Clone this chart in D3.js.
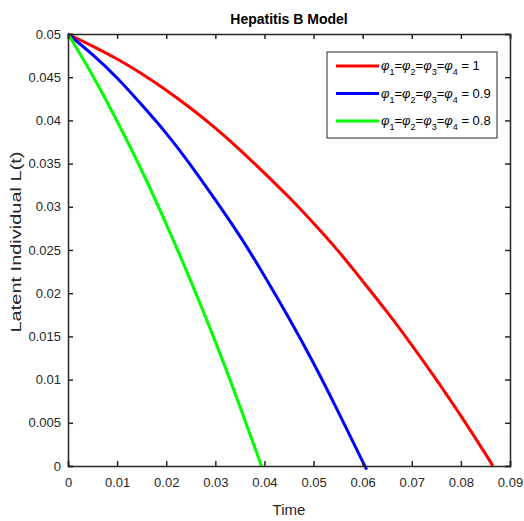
<!DOCTYPE html>
<html>
<head>
<meta charset="utf-8">
<script src="https://cdn.jsdelivr.net/npm/d3@7"></script>
<style>
    body { margin: 0; background: #fff; }
    svg { font-family: "Liberation Sans", Arial, sans-serif; }
</style>
</head>
<body>
<script>
var timeRed = [0, 0.005, 0.01, 0.015, 0.02, 0.025, 0.03, 0.035, 0.04, 0.045, 0.05, 0.055, 0.06, 0.065, 0.07, 0.075, 0.08, 0.085, 0.0865];
var latentRed = [0.05, 0.0486, 0.0471, 0.0454, 0.0435, 0.0414, 0.0391, 0.0366, 0.0339, 0.0311, 0.0281, 0.0249, 0.0214, 0.0178, 0.0140, 0.0100, 0.0058, 0.0014, 0];
var timeBlue = [0, 0.005, 0.01, 0.015, 0.02, 0.025, 0.03, 0.035, 0.04, 0.045, 0.05, 0.055, 0.06, 0.0605];
var latentBlue = [0.05, 0.0476, 0.0449, 0.0418, 0.0385, 0.0348, 0.0308, 0.0266, 0.0220, 0.0171, 0.0119, 0.0063, 0.0005, 0];
var timeGreen = [0, 0.005, 0.01, 0.015, 0.02, 0.025, 0.03, 0.035, 0.0394];
var latentGreen = [0.05, 0.0452, 0.0399, 0.0342, 0.0280, 0.0214, 0.0144, 0.0069, 0];
var legendValues = ["1", "0.9", "0.8"];
var seriesColors = ["#ff0000", "#0000ff", "#00ff00"];
var xTicks = [0, 0.01, 0.02, 0.03, 0.04, 0.05, 0.06, 0.07, 0.08, 0.09];
var yTicks = [0, 0.005, 0.01, 0.015, 0.02, 0.025, 0.03, 0.035, 0.04, 0.045, 0.05];

var W = 524, H = 521,
    margin = {top: 34, right: 14, bottom: 55, left: 68},
    width = W - margin.left - margin.right,
    height = H - margin.top - margin.bottom,
    axisColor = "#262626";

var svg = d3.select("body").append("svg")
    .attr("width", W)
    .attr("height", H);

var g = svg.append("g")
    .attr("transform", "translate(" + margin.left + "," + margin.top + ")");

var x = d3.scaleLinear().domain([0, 0.09]).range([0, width]);
var y = d3.scaleLinear().domain([0, 0.05]).range([height, 0]);

var series = [
    {t: timeRed, v: latentRed},
    {t: timeBlue, v: latentBlue},
    {t: timeGreen, v: latentGreen}
];

var line = d3.line()
    .x(function(d) { return x(d[0]); })
    .y(function(d) { return y(d[1]); })
    .curve(d3.curveNatural);

// curves
series.forEach(function(s, i) {
    g.append("path")
        .datum(d3.zip(s.t, s.v))
        .attr("fill", "none")
        .attr("stroke", seriesColors[i])
        .attr("stroke-width", 3)
        .attr("d", line);
});

// axes, ticks inward
var fmt = function(d) { return d === 0 ? "0" : d3.format("")(+d.toFixed(3)); };

var xAxis = g.append("g")
    .attr("transform", "translate(0," + height + ")")
    .call(d3.axisBottom(x).tickValues(xTicks).tickSize(-5).tickPadding(12).tickFormat(fmt));
var yAxis = g.append("g")
    .call(d3.axisLeft(y).tickValues(yTicks).tickSize(-5).tickPadding(7).tickFormat(fmt));
var xTop = g.append("g")
    .call(d3.axisTop(x).tickValues(xTicks).tickSize(-5).tickFormat(""));
var yRight = g.append("g")
    .attr("transform", "translate(" + width + ",0)")
    .call(d3.axisRight(y).tickValues(yTicks).tickSize(-5).tickFormat(""));

[xAxis, yAxis, xTop, yRight].forEach(function(a) {
    a.select(".domain").attr("stroke", axisColor).attr("stroke-width", 1.5);
    a.selectAll(".tick line").attr("stroke", axisColor).attr("stroke-width", 1.5);
    a.selectAll(".tick text")
        .attr("fill", axisColor)
        .style("font-size", "13px")
        .style("font-family", "Liberation Sans, Arial, sans-serif");
});

// titles
svg.append("text")
    .attr("x", margin.left + width / 2)
    .attr("y", 24)
    .attr("text-anchor", "middle")
    .style("font-weight", "bold")
    .style("font-size", "14px")
    .attr("fill", "#000")
    .text("Hepatitis B Model");

svg.append("text")
    .attr("x", margin.left + width / 2)
    .attr("y", 515)
    .attr("text-anchor", "middle")
    .style("font-size", "15px")
    .attr("fill", axisColor)
    .text("Time");

svg.append("text")
    .attr("transform", "translate(21,242) rotate(-90)")
    .attr("text-anchor", "middle")
    .attr("textLength", 181)
    .attr("lengthAdjust", "spacingAndGlyphs")
    .style("font-size", "15px")
    .attr("fill", axisColor)
    .text("Latent Individual L(t)");

// legend
var legend = svg.append("g").attr("transform", "translate(327,52)");
legend.append("rect")
    .attr("width", 170)
    .attr("height", 86)
    .attr("fill", "#fff")
    .attr("stroke", axisColor)
    .attr("stroke-width", 1);

legendValues.forEach(function(val, i) {
    var yy = 14 + i * 27.5;
    legend.append("line")
        .attr("x1", 9).attr("x2", 52)
        .attr("y1", yy).attr("y2", yy)
        .attr("stroke", seriesColors[i])
        .attr("stroke-width", 3);
    var txt = legend.append("text")
        .attr("x", 54)
        .attr("y", yy + 4)
        .style("font-size", "13px")
        .attr("fill", "#000");
    for (var k = 1; k <= 4; k++) {
        txt.append("tspan").style("font-style", "italic").text("\u03C6");
        txt.append("tspan").attr("dy", 5).style("font-size", "9px").text(k);
        txt.append("tspan").attr("dy", -5).text(k < 4 ? "=" : " = " + val);
    }
});
</script>
</body>
</html>
